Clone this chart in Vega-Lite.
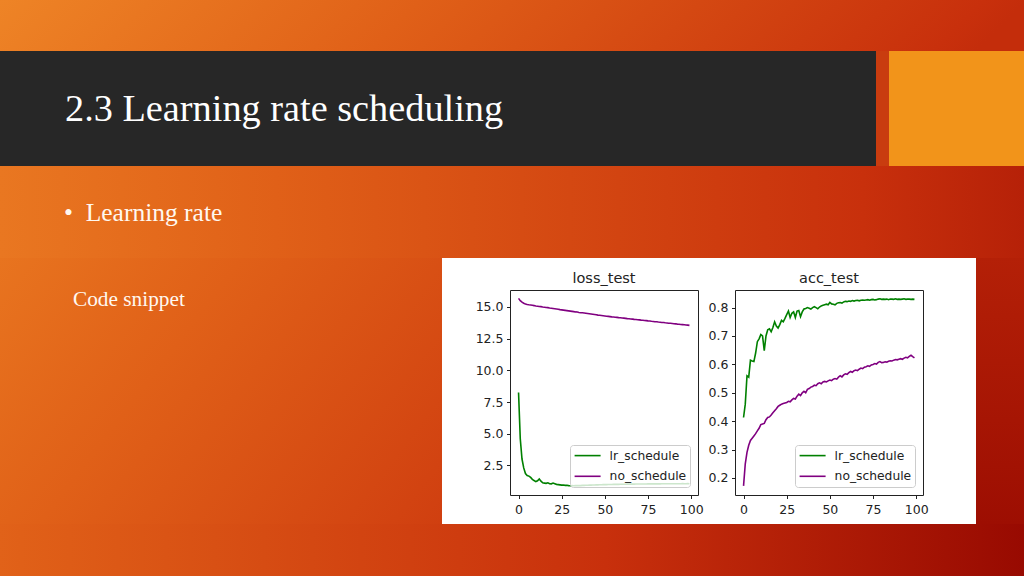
{
"$schema": "https://vega.github.io/schema/vega-lite/v6.json",
"padding": 0,
"background": "white",
"spacing": 0,
"config": {
  "view": {"stroke": null},
  "concat": {"spacing": 0},
  "axis": {"domain": false, "grid": false, "tickSize": 3.5, "tickColor": "#222222", "tickWidth": 1, "labelPadding": 3.5, "labelFont": "DejaVu Sans", "labelFontSize": 12.5, "labelColor": "#222222", "labelFlush": false, "labelOverlap": false},
  "axisX": {"labelPadding": 5}
},
"datasets": {
  "curves": [
{"epoch":0,"schedule":"lr_schedule","loss":8.25,"acc":0.413},
{"epoch":1,"schedule":"lr_schedule","loss":4.6,"acc":0.46},
{"epoch":2,"schedule":"lr_schedule","loss":3.0,"acc":0.56},
{"epoch":3,"schedule":"lr_schedule","loss":2.3,"acc":0.555},
{"epoch":4,"schedule":"lr_schedule","loss":1.85,"acc":0.615},
{"epoch":5,"schedule":"lr_schedule","loss":1.7,"acc":0.612},
{"epoch":6,"schedule":"lr_schedule","loss":1.65,"acc":0.61},
{"epoch":7,"schedule":"lr_schedule","loss":1.55,"acc":0.64},
{"epoch":8,"schedule":"lr_schedule","loss":1.4,"acc":0.68},
{"epoch":9,"schedule":"lr_schedule","loss":1.3,"acc":0.69},
{"epoch":10,"schedule":"lr_schedule","loss":1.22,"acc":0.705},
{"epoch":11,"schedule":"lr_schedule","loss":1.28,"acc":0.7},
{"epoch":12,"schedule":"lr_schedule","loss":1.42,"acc":0.648},
{"epoch":13,"schedule":"lr_schedule","loss":1.25,"acc":0.7},
{"epoch":14,"schedule":"lr_schedule","loss":1.12,"acc":0.722},
{"epoch":15,"schedule":"lr_schedule","loss":1.1,"acc":0.725},
{"epoch":16,"schedule":"lr_schedule","loss":1.08,"acc":0.715},
{"epoch":17,"schedule":"lr_schedule","loss":1.12,"acc":0.73},
{"epoch":18,"schedule":"lr_schedule","loss":1.05,"acc":0.75},
{"epoch":19,"schedule":"lr_schedule","loss":1.04,"acc":0.735},
{"epoch":20,"schedule":"lr_schedule","loss":1.1,"acc":0.728},
{"epoch":21,"schedule":"lr_schedule","loss":1.05,"acc":0.74},
{"epoch":22,"schedule":"lr_schedule","loss":1.0,"acc":0.755},
{"epoch":23,"schedule":"lr_schedule","loss":0.98,"acc":0.75},
{"epoch":24,"schedule":"lr_schedule","loss":0.96,"acc":0.762},
{"epoch":25,"schedule":"lr_schedule","loss":0.94,"acc":0.775},
{"epoch":26,"schedule":"lr_schedule","loss":0.95,"acc":0.788},
{"epoch":27,"schedule":"lr_schedule","loss":0.92,"acc":0.765},
{"epoch":28,"schedule":"lr_schedule","loss":0.93,"acc":0.78},
{"epoch":29,"schedule":"lr_schedule","loss":0.9,"acc":0.785},
{"epoch":30,"schedule":"lr_schedule","loss":0.89,"acc":0.765},
{"epoch":31,"schedule":"lr_schedule","loss":0.9,"acc":0.788},
{"epoch":32,"schedule":"lr_schedule","loss":0.89,"acc":0.79},
{"epoch":33,"schedule":"lr_schedule","loss":0.9,"acc":0.768},
{"epoch":34,"schedule":"lr_schedule","loss":0.9,"acc":0.785},
{"epoch":35,"schedule":"lr_schedule","loss":0.91,"acc":0.795},
{"epoch":36,"schedule":"lr_schedule","loss":0.9,"acc":0.797},
{"epoch":37,"schedule":"lr_schedule","loss":0.92,"acc":0.8},
{"epoch":38,"schedule":"lr_schedule","loss":0.92,"acc":0.798},
{"epoch":39,"schedule":"lr_schedule","loss":0.93,"acc":0.795},
{"epoch":40,"schedule":"lr_schedule","loss":0.93,"acc":0.8},
{"epoch":41,"schedule":"lr_schedule","loss":0.94,"acc":0.803},
{"epoch":42,"schedule":"lr_schedule","loss":0.94,"acc":0.8},
{"epoch":43,"schedule":"lr_schedule","loss":0.95,"acc":0.796},
{"epoch":44,"schedule":"lr_schedule","loss":0.95,"acc":0.802},
{"epoch":45,"schedule":"lr_schedule","loss":0.96,"acc":0.806},
{"epoch":46,"schedule":"lr_schedule","loss":0.96,"acc":0.808},
{"epoch":47,"schedule":"lr_schedule","loss":0.97,"acc":0.81},
{"epoch":48,"schedule":"lr_schedule","loss":0.97,"acc":0.812},
{"epoch":49,"schedule":"lr_schedule","loss":0.98,"acc":0.81},
{"epoch":50,"schedule":"lr_schedule","loss":0.98,"acc":0.818},
{"epoch":51,"schedule":"lr_schedule","loss":0.98,"acc":0.813},
{"epoch":52,"schedule":"lr_schedule","loss":0.99,"acc":0.812},
{"epoch":53,"schedule":"lr_schedule","loss":0.99,"acc":0.81},
{"epoch":54,"schedule":"lr_schedule","loss":0.99,"acc":0.815},
{"epoch":55,"schedule":"lr_schedule","loss":1.0,"acc":0.817},
{"epoch":56,"schedule":"lr_schedule","loss":1.0,"acc":0.818},
{"epoch":57,"schedule":"lr_schedule","loss":1.0,"acc":0.816},
{"epoch":58,"schedule":"lr_schedule","loss":1.0,"acc":0.82},
{"epoch":59,"schedule":"lr_schedule","loss":1.01,"acc":0.822},
{"epoch":60,"schedule":"lr_schedule","loss":1.01,"acc":0.821},
{"epoch":61,"schedule":"lr_schedule","loss":1.01,"acc":0.823},
{"epoch":62,"schedule":"lr_schedule","loss":1.01,"acc":0.822},
{"epoch":63,"schedule":"lr_schedule","loss":1.02,"acc":0.825},
{"epoch":64,"schedule":"lr_schedule","loss":1.02,"acc":0.823},
{"epoch":65,"schedule":"lr_schedule","loss":1.02,"acc":0.825},
{"epoch":66,"schedule":"lr_schedule","loss":1.02,"acc":0.826},
{"epoch":67,"schedule":"lr_schedule","loss":1.02,"acc":0.824},
{"epoch":68,"schedule":"lr_schedule","loss":1.03,"acc":0.826},
{"epoch":69,"schedule":"lr_schedule","loss":1.03,"acc":0.827},
{"epoch":70,"schedule":"lr_schedule","loss":1.03,"acc":0.826},
{"epoch":71,"schedule":"lr_schedule","loss":1.03,"acc":0.827},
{"epoch":72,"schedule":"lr_schedule","loss":1.03,"acc":0.828},
{"epoch":73,"schedule":"lr_schedule","loss":1.03,"acc":0.826},
{"epoch":74,"schedule":"lr_schedule","loss":1.03,"acc":0.828},
{"epoch":75,"schedule":"lr_schedule","loss":1.04,"acc":0.829},
{"epoch":76,"schedule":"lr_schedule","loss":1.04,"acc":0.827},
{"epoch":77,"schedule":"lr_schedule","loss":1.04,"acc":0.828},
{"epoch":78,"schedule":"lr_schedule","loss":1.04,"acc":0.83},
{"epoch":79,"schedule":"lr_schedule","loss":1.04,"acc":0.831},
{"epoch":80,"schedule":"lr_schedule","loss":1.04,"acc":0.829},
{"epoch":81,"schedule":"lr_schedule","loss":1.04,"acc":0.83},
{"epoch":82,"schedule":"lr_schedule","loss":1.04,"acc":0.829},
{"epoch":83,"schedule":"lr_schedule","loss":1.05,"acc":0.83},
{"epoch":84,"schedule":"lr_schedule","loss":1.05,"acc":0.828},
{"epoch":85,"schedule":"lr_schedule","loss":1.05,"acc":0.83},
{"epoch":86,"schedule":"lr_schedule","loss":1.05,"acc":0.83},
{"epoch":87,"schedule":"lr_schedule","loss":1.05,"acc":0.829},
{"epoch":88,"schedule":"lr_schedule","loss":1.05,"acc":0.831},
{"epoch":89,"schedule":"lr_schedule","loss":1.05,"acc":0.829},
{"epoch":90,"schedule":"lr_schedule","loss":1.05,"acc":0.83},
{"epoch":91,"schedule":"lr_schedule","loss":1.05,"acc":0.829},
{"epoch":92,"schedule":"lr_schedule","loss":1.05,"acc":0.83},
{"epoch":93,"schedule":"lr_schedule","loss":1.05,"acc":0.831},
{"epoch":94,"schedule":"lr_schedule","loss":1.05,"acc":0.829},
{"epoch":95,"schedule":"lr_schedule","loss":1.06,"acc":0.83},
{"epoch":96,"schedule":"lr_schedule","loss":1.05,"acc":0.83},
{"epoch":97,"schedule":"lr_schedule","loss":1.05,"acc":0.829},
{"epoch":98,"schedule":"lr_schedule","loss":1.06,"acc":0.83},
{"epoch":99,"schedule":"lr_schedule","loss":1.05,"acc":0.829},
{"epoch":0,"schedule":"no_schedule","loss":15.68,"acc":0.172},
{"epoch":1,"schedule":"no_schedule","loss":15.5,"acc":0.25},
{"epoch":2,"schedule":"no_schedule","loss":15.38,"acc":0.29},
{"epoch":3,"schedule":"no_schedule","loss":15.3,"acc":0.315},
{"epoch":4,"schedule":"no_schedule","loss":15.24,"acc":0.332},
{"epoch":5,"schedule":"no_schedule","loss":15.2,"acc":0.34},
{"epoch":6,"schedule":"no_schedule","loss":15.17,"acc":0.348},
{"epoch":7,"schedule":"no_schedule","loss":15.15,"acc":0.356},
{"epoch":8,"schedule":"no_schedule","loss":15.13,"acc":0.366},
{"epoch":9,"schedule":"no_schedule","loss":15.11,"acc":0.375},
{"epoch":10,"schedule":"no_schedule","loss":15.08,"acc":0.388},
{"epoch":11,"schedule":"no_schedule","loss":15.06,"acc":0.39},
{"epoch":12,"schedule":"no_schedule","loss":15.04,"acc":0.392},
{"epoch":13,"schedule":"no_schedule","loss":15.03,"acc":0.405},
{"epoch":14,"schedule":"no_schedule","loss":15.0,"acc":0.413},
{"epoch":15,"schedule":"no_schedule","loss":14.98,"acc":0.415},
{"epoch":16,"schedule":"no_schedule","loss":14.96,"acc":0.422},
{"epoch":17,"schedule":"no_schedule","loss":14.95,"acc":0.43},
{"epoch":18,"schedule":"no_schedule","loss":14.92,"acc":0.437},
{"epoch":19,"schedule":"no_schedule","loss":14.9,"acc":0.444},
{"epoch":20,"schedule":"no_schedule","loss":14.88,"acc":0.452},
{"epoch":21,"schedule":"no_schedule","loss":14.86,"acc":0.456},
{"epoch":22,"schedule":"no_schedule","loss":14.84,"acc":0.46},
{"epoch":23,"schedule":"no_schedule","loss":14.82,"acc":0.462},
{"epoch":24,"schedule":"no_schedule","loss":14.79,"acc":0.464},
{"epoch":25,"schedule":"no_schedule","loss":14.77,"acc":0.466},
{"epoch":26,"schedule":"no_schedule","loss":14.75,"acc":0.47},
{"epoch":27,"schedule":"no_schedule","loss":14.73,"acc":0.468},
{"epoch":28,"schedule":"no_schedule","loss":14.71,"acc":0.475},
{"epoch":29,"schedule":"no_schedule","loss":14.69,"acc":0.48},
{"epoch":30,"schedule":"no_schedule","loss":14.67,"acc":0.478},
{"epoch":31,"schedule":"no_schedule","loss":14.65,"acc":0.488},
{"epoch":32,"schedule":"no_schedule","loss":14.63,"acc":0.495},
{"epoch":33,"schedule":"no_schedule","loss":14.61,"acc":0.49},
{"epoch":34,"schedule":"no_schedule","loss":14.6,"acc":0.5},
{"epoch":35,"schedule":"no_schedule","loss":14.57,"acc":0.505},
{"epoch":36,"schedule":"no_schedule","loss":14.55,"acc":0.5},
{"epoch":37,"schedule":"no_schedule","loss":14.54,"acc":0.512},
{"epoch":38,"schedule":"no_schedule","loss":14.52,"acc":0.515},
{"epoch":39,"schedule":"no_schedule","loss":14.5,"acc":0.52},
{"epoch":40,"schedule":"no_schedule","loss":14.48,"acc":0.522},
{"epoch":41,"schedule":"no_schedule","loss":14.46,"acc":0.527},
{"epoch":42,"schedule":"no_schedule","loss":14.44,"acc":0.525},
{"epoch":43,"schedule":"no_schedule","loss":14.42,"acc":0.532},
{"epoch":44,"schedule":"no_schedule","loss":14.4,"acc":0.535},
{"epoch":45,"schedule":"no_schedule","loss":14.38,"acc":0.532},
{"epoch":46,"schedule":"no_schedule","loss":14.36,"acc":0.538},
{"epoch":47,"schedule":"no_schedule","loss":14.35,"acc":0.54},
{"epoch":48,"schedule":"no_schedule","loss":14.33,"acc":0.538},
{"epoch":49,"schedule":"no_schedule","loss":14.31,"acc":0.542},
{"epoch":50,"schedule":"no_schedule","loss":14.29,"acc":0.545},
{"epoch":51,"schedule":"no_schedule","loss":14.27,"acc":0.543},
{"epoch":52,"schedule":"no_schedule","loss":14.26,"acc":0.548},
{"epoch":53,"schedule":"no_schedule","loss":14.24,"acc":0.55},
{"epoch":54,"schedule":"no_schedule","loss":14.22,"acc":0.548},
{"epoch":55,"schedule":"no_schedule","loss":14.21,"acc":0.555},
{"epoch":56,"schedule":"no_schedule","loss":14.19,"acc":0.56},
{"epoch":57,"schedule":"no_schedule","loss":14.18,"acc":0.556},
{"epoch":58,"schedule":"no_schedule","loss":14.16,"acc":0.563},
{"epoch":59,"schedule":"no_schedule","loss":14.15,"acc":0.567},
{"epoch":60,"schedule":"no_schedule","loss":14.13,"acc":0.565},
{"epoch":61,"schedule":"no_schedule","loss":14.12,"acc":0.571},
{"epoch":62,"schedule":"no_schedule","loss":14.1,"acc":0.575},
{"epoch":63,"schedule":"no_schedule","loss":14.08,"acc":0.572},
{"epoch":64,"schedule":"no_schedule","loss":14.07,"acc":0.578},
{"epoch":65,"schedule":"no_schedule","loss":14.05,"acc":0.58},
{"epoch":66,"schedule":"no_schedule","loss":14.04,"acc":0.578},
{"epoch":67,"schedule":"no_schedule","loss":14.02,"acc":0.583},
{"epoch":68,"schedule":"no_schedule","loss":14.01,"acc":0.587},
{"epoch":69,"schedule":"no_schedule","loss":13.99,"acc":0.585},
{"epoch":70,"schedule":"no_schedule","loss":13.98,"acc":0.59},
{"epoch":71,"schedule":"no_schedule","loss":13.96,"acc":0.592},
{"epoch":72,"schedule":"no_schedule","loss":13.95,"acc":0.595},
{"epoch":73,"schedule":"no_schedule","loss":13.93,"acc":0.593},
{"epoch":74,"schedule":"no_schedule","loss":13.92,"acc":0.598},
{"epoch":75,"schedule":"no_schedule","loss":13.9,"acc":0.6},
{"epoch":76,"schedule":"no_schedule","loss":13.89,"acc":0.603},
{"epoch":77,"schedule":"no_schedule","loss":13.87,"acc":0.601},
{"epoch":78,"schedule":"no_schedule","loss":13.86,"acc":0.607},
{"epoch":79,"schedule":"no_schedule","loss":13.84,"acc":0.61},
{"epoch":80,"schedule":"no_schedule","loss":13.83,"acc":0.606},
{"epoch":81,"schedule":"no_schedule","loss":13.81,"acc":0.607},
{"epoch":82,"schedule":"no_schedule","loss":13.8,"acc":0.609},
{"epoch":83,"schedule":"no_schedule","loss":13.78,"acc":0.608},
{"epoch":84,"schedule":"no_schedule","loss":13.77,"acc":0.611},
{"epoch":85,"schedule":"no_schedule","loss":13.75,"acc":0.613},
{"epoch":86,"schedule":"no_schedule","loss":13.74,"acc":0.612},
{"epoch":87,"schedule":"no_schedule","loss":13.72,"acc":0.615},
{"epoch":88,"schedule":"no_schedule","loss":13.71,"acc":0.617},
{"epoch":89,"schedule":"no_schedule","loss":13.7,"acc":0.616},
{"epoch":90,"schedule":"no_schedule","loss":13.68,"acc":0.618},
{"epoch":91,"schedule":"no_schedule","loss":13.67,"acc":0.62},
{"epoch":92,"schedule":"no_schedule","loss":13.65,"acc":0.618},
{"epoch":93,"schedule":"no_schedule","loss":13.64,"acc":0.622},
{"epoch":94,"schedule":"no_schedule","loss":13.62,"acc":0.625},
{"epoch":95,"schedule":"no_schedule","loss":13.61,"acc":0.623},
{"epoch":96,"schedule":"no_schedule","loss":13.6,"acc":0.628},
{"epoch":97,"schedule":"no_schedule","loss":13.58,"acc":0.632},
{"epoch":98,"schedule":"no_schedule","loss":13.57,"acc":0.627},
{"epoch":99,"schedule":"no_schedule","loss":13.55,"acc":0.623}
  ]
},
"vconcat": [
  {"width": 1024, "height": 51, "data": {"values": []}, "mark": "text",
   "view": {"stroke": null, "fill": {"gradient": "linear", "x1": 0, "y1": 0, "x2": 1, "y2": 0.05, "stops": [{"offset": 0, "color": "#ee8426"}, {"offset": 0.41, "color": "#e06018"}, {"offset": 0.96, "color": "#c8300c"}, {"offset": 1, "color": "#c42d0b"}]}}},
  {"hconcat": [
    {"width": 876, "height": 115, "data": {"values": []}, "mark": "text",
     "view": {"stroke": null, "fill": "#272727"},
     "title": {"text": "2.3 Learning rate scheduling", "anchor": "start", "frame": "group", "orient": "top", "offset": -108, "dx": 65, "baseline": "alphabetic", "font": "Liberation Serif", "fontSize": 38.3, "fontWeight": "normal", "color": "#ffffff"}},
    {"width": 13, "height": 115, "data": {"values": []}, "mark": "text",
     "view": {"stroke": null, "fill": "#c93c0f"}},
    {"width": 135, "height": 115, "data": {"values": []}, "mark": "text",
     "view": {"stroke": null, "fill": "#f2941a"}}
  ], "spacing": 0},
  {"width": 1024, "height": 92, "data": {"values": []}, "mark": "text",
   "view": {"stroke": null, "fill": {"gradient": "linear", "x1": 0, "y1": 0, "x2": 1, "y2": 0, "stops": [{"offset": 0, "color": "#e97721"}, {"offset": 0.271, "color": "#e06018"}, {"offset": 0.843, "color": "#c8300c"}, {"offset": 1, "color": "#b62108"}]}},
   "title": {"text": "•\u2002Learning rate", "anchor": "start", "frame": "group", "orient": "top", "offset": -80, "dx": 64, "baseline": "alphabetic", "font": "Liberation Serif", "fontSize": 25.5, "fontWeight": "normal", "color": "#fff8f0"}},
  {"hconcat": [
    {"width": 442, "height": 266, "data": {"values": []}, "mark": "text",
     "view": {"stroke": null, "fill": {"gradient": "linear", "x1": 0, "y1": 0, "x2": 1.205, "y2": 0.555, "stops": [{"offset": 0, "color": "#e8741f"}, {"offset": 0.376, "color": "#e06018"}, {"offset": 1, "color": "#d03f10"}]}},
     "title": {"text": "Code snippet", "anchor": "start", "frame": "group", "orient": "top", "offset": -69, "dx": 73, "baseline": "alphabetic", "font": "Liberation Serif", "fontSize": 21.3, "fontWeight": "normal", "color": "#fff8f0"}},
    {"vconcat": [
      {"width": 534, "height": 12, "data": {"values": []}, "mark": "text"},
      {"hconcat": [
        {"width": 32, "height": 10, "data": {"values": []}, "mark": "text"},
        {"width": 188, "height": 205, "data": {"name": "curves"},
         "title": {"text": "loss_test", "frame": "group", "anchor": "middle", "font": "DejaVu Sans", "fontSize": 14.5, "fontWeight": "normal", "color": "#222222", "offset": 4},
         "view": {"fill": "white", "stroke": "#222222", "strokeWidth": 1},
         "mark": {"type": "line", "strokeWidth": 1.6},
         "encoding": {
           "x": {"field": "epoch", "type": "quantitative", "title": null, "scale": {"domain": [-4.95, 103.95], "nice": false, "zero": false}, "axis": {"values": [0, 25, 50, 75, 100], "format": "d"}},
           "y": {"field": "loss", "type": "quantitative", "title": null, "scale": {"domain": [0.16, 16.34], "nice": false, "zero": false}, "axis": {"values": [2.5, 5, 7.5, 10, 12.5, 15], "format": ".1f"}},
           "color": {"field": "schedule", "type": "nominal", "scale": {"domain": ["lr_schedule", "no_schedule"], "range": ["#008000", "#800080"]},
             "legend": {"title": null, "orient": "bottom-right", "offset": 8, "fillColor": "rgba(255,255,255,0.8)", "strokeColor": "#cccccc", "cornerRadius": 3, "padding": 3.6, "symbolType": "M-1,0H3.333", "symbolSize": 144, "symbolStrokeWidth": 1.6, "labelFont": "DejaVu Sans", "labelFontSize": 12.3, "labelColor": "#222222", "labelOffset": 22, "rowPadding": 6.7}}
         }},
        {"width": 3, "height": 10, "data": {"values": []}, "mark": "text"},
        {"width": 188, "height": 205, "data": {"name": "curves"},
         "title": {"text": "acc_test", "frame": "group", "anchor": "middle", "font": "DejaVu Sans", "fontSize": 14.5, "fontWeight": "normal", "color": "#222222", "offset": 4},
         "view": {"fill": "white", "stroke": "#222222", "strokeWidth": 1},
         "mark": {"type": "line", "strokeWidth": 1.6},
         "encoding": {
           "x": {"field": "epoch", "type": "quantitative", "title": null, "scale": {"domain": [-4.95, 103.95], "nice": false, "zero": false}, "axis": {"values": [0, 25, 50, 75, 100], "format": "d"}},
           "y": {"field": "acc", "type": "quantitative", "title": null, "scale": {"domain": [0.14, 0.862], "nice": false, "zero": false}, "axis": {"values": [0.2, 0.3, 0.4, 0.5, 0.6, 0.7, 0.8], "format": ".1f"}},
           "color": {"field": "schedule", "type": "nominal", "scale": {"domain": ["lr_schedule", "no_schedule"], "range": ["#008000", "#800080"]},
             "legend": {"title": null, "orient": "bottom-right", "offset": 8, "fillColor": "rgba(255,255,255,0.8)", "strokeColor": "#cccccc", "cornerRadius": 3, "padding": 3.6, "symbolType": "M-1,0H3.333", "symbolSize": 144, "symbolStrokeWidth": 1.6, "labelFont": "DejaVu Sans", "labelFontSize": 12.3, "labelColor": "#222222", "labelOffset": 22, "rowPadding": 6.7}}
         }}
      ], "spacing": 0, "resolve": {"scale": {"color": "independent"}, "legend": {"color": "independent"}}}
    ], "spacing": 0},
    {"width": 48, "height": 266, "data": {"values": []}, "mark": "text",
     "view": {"stroke": null, "fill": {"gradient": "linear", "x1": 0, "y1": 0, "x2": 0, "y2": 1, "stops": [{"offset": 0, "color": "#b42007"}, {"offset": 1, "color": "#9d0e02"}]}}}
  ], "spacing": 0},
  {"width": 1024, "height": 52, "data": {"values": []}, "mark": "text",
   "view": {"stroke": null, "fill": {"gradient": "linear", "x1": 0, "y1": 0, "x2": 1, "y2": 0, "stops": [{"offset": 0, "color": "#e16219"}, {"offset": 0.02, "color": "#e06018"}, {"offset": 0.591, "color": "#c8300c"}, {"offset": 1, "color": "#980a01"}]}}}
]
}
